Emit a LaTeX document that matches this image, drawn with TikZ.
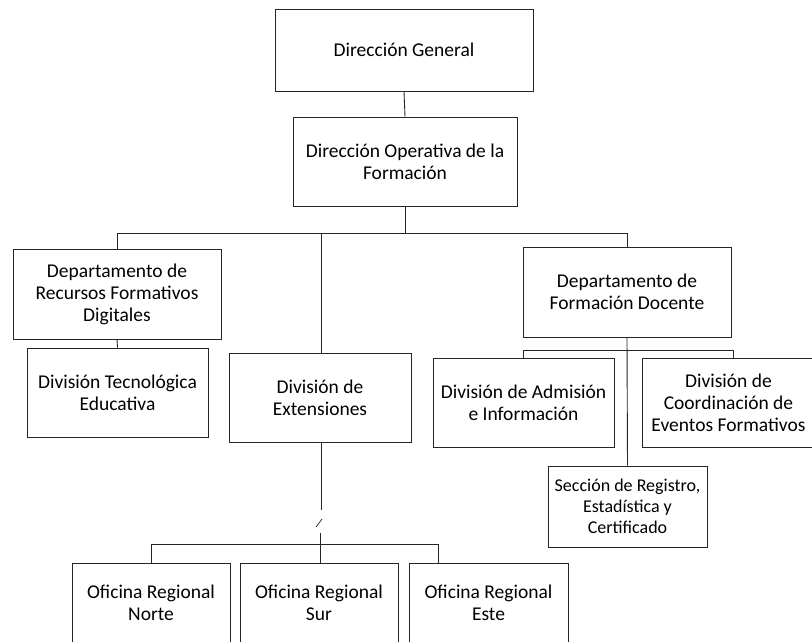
\documentclass[tikz,border=0pt]{standalone}
\usepackage{fontspec}
\setmainfont{Carlito}

\begin{document}
\begin{tikzpicture}[
  x=1pt, y=-1pt,
  font=\fontsize{19.5}{22}\selectfont,
  unit/.style={draw=black!85, line width=0.9pt, align=center, inner sep=2pt, fill=white},
  small/.style={font=\fontsize{18}{21}\selectfont},
  link/.style={draw=black!85, line width=0.9pt}
]
\useasboundingbox (0,0) rectangle (812,641);
\clip (0,0) rectangle (812,641);

\node[unit, minimum width=258pt, minimum height=82pt] (gen) at (404,50) {Dirección General};
\node[unit, minimum width=224pt, minimum height=89pt] (oper) at (405,161.5)
  {Dirección Operativa de la\\Formación};

\node[unit, minimum width=208pt, minimum height=90pt] (recursos) at (117,294)
  {Departamento de\\Recursos Formativos\\Digitales};
\node[unit, minimum width=181pt, minimum height=89pt] (tecno) at (117.5,392.5)
  {División Tecnológica\\Educativa};
\node[unit, minimum width=182pt, minimum height=89pt] (ext) at (320,397.5)
  {División de\\Extensiones};
\node[unit, minimum width=208pt, minimum height=90pt] (docente) at (627,292)
  {Departamento de\\Formación Docente};

\node[unit, minimum width=181pt, minimum height=89pt] (admision) at (523.5,402.5)
  {División de Admisión\\e Información};
\node[unit, minimum width=173pt, minimum height=89pt] (coord) at (728.5,402.5)
  {División de\\Coordinación de\\Eventos Formativos};
\node[unit, small, minimum width=159pt, minimum height=81pt] (seccion) at (627.5,506.5)
  {Sección de Registro,\\Estadística y\\Certificado};

\node[unit, minimum width=158pt, minimum height=80pt] (norte) at (151,603)
  {Oficina Regional\\Norte};
\node[unit, minimum width=158pt, minimum height=80pt] (sur) at (319,603)
  {Oficina Regional\\Sur};
\node[unit, minimum width=159pt, minimum height=80pt] (este) at (488.5,603)
  {Oficina Regional\\Este};

\coordinate (hub) at (405,233);
\coordinate (dhub) at (627,350);
\coordinate (ctap) at (733,350);
\coordinate (brkA) at (321,510);
\coordinate (brkB) at (316,527);
\coordinate (brkC) at (322,519);
\coordinate (brkD) at (320,533);
\coordinate (ohub) at (320,544);
\coordinate (etap) at (438,544);

\draw[link] (gen.south) -- (oper.north);
\draw[link] (oper.south) -- (hub);
\draw[link] (recursos.north) -- (recursos.north |- hub) -- (docente.north |- hub) -- (docente.north);
\draw[link] (ext.north -| brkA) -- (brkA |- hub);
\draw[link] (recursos.south) -- (tecno.north);

\draw[link] (docente.south) -- (seccion.north);
\draw[link] (admision.north) -- (admision.north |- dhub) -- (ctap) -- (ctap |- coord.north);

\draw[link] (ext.south -| brkA) -- (brkA);
\draw[link, line width=0.7pt] (brkB) -- (brkC);
\draw[link] (brkD) -- (sur.north -| brkD);
\draw[link] (norte.north) -- (norte.north |- ohub) -- (etap) -- (etap |- este.north);

\end{tikzpicture}
\end{document}
